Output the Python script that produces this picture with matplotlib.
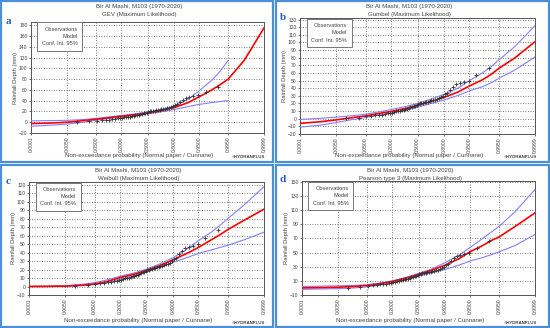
import math
import matplotlib
matplotlib.use("Agg")
import matplotlib.pyplot as plt
from matplotlib.patches import Rectangle
import numpy as np

plt.rcParams['font.family'] = ['Liberation Sans', 'DejaVu Sans']

# probabilities where the model curves were read
PROB = [0.0001, 0.001, 0.005, 0.02, 0.05, 0.1, 0.2, 0.35, 0.5, 0.65,
        0.8, 0.9, 0.95, 0.98, 0.99, 0.995, 0.999, 0.9999]
X_TICKS = [0.0001, 0.005, 0.05, 0.2, 0.5, 0.8, 0.95, 0.995, 0.9999]

nan = np.nan
gev_model = [-2.5, -1.5, 0, 3, 5.5, 8, 11, 14, 17, 21, 27, 36, 47, 60, 70, 80, 115, 175]
gev_upper = [2.5, 3, 3.5, 5, 7, 9.5, 12.5, 15.5, 19, 23, 30, 42, 58, 78, 95, 115, nan, nan]
gev_lower = [-7.5, -5.5, -3.5, 0, 3.5, 6.5, 9.5, 12.5, 15.5, 19, 23.5, 29, 33, 36.5, 38.5, 40, nan, nan]

gum_model = [-6, -4, -1.5, 1.5, 3.7, 6.5, 9.5, 13.5, 17.5, 22, 28, 35, 43, 51, 58, 66, 80, 101]
gum_upper = [-1, 0.5, 2, 4, 6, 8.5, 12, 16, 20, 25, 32, 40, 50, 60, 68, 77, 95, 122]
gum_lower = [-11, -8.5, -5, -1, 1.5, 4.5, 7.5, 11, 15, 19.5, 24.5, 30.5, 36.5, 42, 47, 53, 64, 81]

wei_model = [0, 0.2, 0.5, 1.5, 3, 5.5, 10.5, 14.5, 19, 24, 31.5, 39, 46, 55, 61, 67, 78, 91]
wei_upper = [0.2, 0.5, 1, 2.5, 4.5, 7.5, 12, 16, 20.5, 26, 34, 44, 54, 64, 72, 80, 96, 117.5]
wei_lower = [0, 0, 0.2, 1, 2, 4, 8.5, 12.5, 17, 22, 28.5, 34, 39, 43, 46, 48.5, 55, 64]

pe3_model = [0, 0.5, 1, 2, 3.5, 5.5, 9, 14, 19, 24.5, 32, 41, 51, 60, 67, 72, 87, 106]
pe3_upper = [2, 2.5, 3, 3.5, 4.5, 6.5, 10, 15, 20.5, 26, 35.5, 46, 57, 70, 79, 87, 108, 139]
pe3_lower = [-2, -1.5, -1, 0, 1.5, 3.5, 7, 11.5, 16.5, 21, 26, 32, 38, 43, 47, 51, 60, 75.5]

# annual maximum rainfall (mm), sorted, plotted at Cunnane positions
obs = [0.5, 1.5, 3, 4, 4.5, 5, 5.5, 6, 7, 7.5, 8, 9, 9.5, 10, 10.5, 11, 12,
       12.5, 13, 14, 15, 16, 16.5, 17, 18, 19, 20, 20.5, 21, 21.5, 22, 22.5,
       23, 24, 24.5, 25, 26, 27, 28, 30, 32, 34, 38, 42, 45, 47, 48, 50, 57, 66]

TITLE = 'Bir Al Mashi, M103 (1970-2020)'
XLABEL = 'Non-exceedance probability (Normal paper / Cunnane)'

_erf = np.vectorize(math.erf, otypes=[float])


def ndtr(z):
    return 0.5 * (1 + _erf(np.asarray(z, float) / math.sqrt(2)))


def ndtri(p):
    p = np.clip(np.asarray(p, float), 1e-12, 1 - 1e-12)
    lo = np.full(p.shape, -9.0)
    hi = np.full(p.shape, 9.0)
    for _ in range(60):
        mid = (lo + hi) / 2
        below = ndtr(mid) < p
        lo = np.where(below, mid, lo)
        hi = np.where(below, hi, mid)
    return (lo + hi) / 2


fig = plt.figure(figsize=(5.5, 3.28), dpi=100)
W, H = 550, 328


def fbox(l, t, r, b):
    return [l / W, 1 - b / H, (r - l) / W, (b - t) / H]


n = len(obs)
cunnane = [(i + 1 - 0.4) / (n + 0.2) for i in range(n)]

panels = [
    ('a', 'GEV (Maximum Likelihood)', gev_model, gev_upper, gev_lower,
     (31, 22, 264, 133), (1, 1, 273, 162), (-20, 186), np.arange(-20, 181, 20)),
    ('b', 'Gumbel (Maximum Likelihood)', gum_model, gum_upper, gum_lower,
     (300, 18, 535, 134), (276, 1, 549, 162), (-20, 132), np.arange(-20, 131, 10)),
    ('c', 'Weibull (Maximum Likelihood)', wei_model, wei_upper, wei_lower,
     (29, 182, 264, 295), (1, 165, 273, 327), (-10, 123), np.arange(-10, 121, 10)),
    ('d', 'Pearson type 3 (Maximum Likelihood)', pe3_model, pe3_upper, pe3_lower,
     (302, 181, 535, 295), (276, 165, 549, 327), (-10, 151), np.arange(-10, 151, 20)),
]

TXT = '#444444'

for letter, sub, model, upper, lower, ab, frame, ylim, yt in panels:
    l, t, r, b = frame
    fig.patches.append(Rectangle((l / W, 1 - b / H), (r - l) / W, (b - t) / H,
                                 transform=fig.transFigure, fill=False,
                                 edgecolor='#4a90d9', lw=1.6))
    ax = fig.add_axes(fbox(*ab))
    ax.set_xscale('function', functions=(ndtri, ndtr))
    ax.plot(PROB, upper, color='#8080ff', lw=0.8, zorder=3)
    ax.plot(PROB, lower, color='#8080ff', lw=0.8, zorder=3)
    ax.plot(PROB, model, color='#ff0000', lw=1.2, zorder=4)
    ax.plot(cunnane, obs, '+', color='#333333', ms=3, mew=0.6, zorder=5)
    ax.set_xlim(0.0001, 0.9999)
    ax.set_ylim(*ylim)
    ax.set_xticks(X_TICKS)
    ax.set_xticklabels(['%.4f' % v for v in X_TICKS], rotation=90)
    ax.set_yticks(yt)
    ax.tick_params(labelsize=3.6, length=1.5, width=0.5, pad=1, colors=TXT)
    ax.grid(True, color='#555555', ls=(0, (1, 2)), lw=0.6)
    for s in ax.spines.values():
        s.set_color('#555555')
        s.set_linewidth(0.7)
    ax.set_ylabel('Rainfall Depth (mm)', fontsize=4.2, labelpad=1, color=TXT)
    ax.text(0.2, 0.955, 'Observations\nModel\nConf. Int. 95%', transform=ax.transAxes,
            ha='right', va='top', fontsize=4.1, color=TXT, multialignment='right',
            linespacing=1.55,
            bbox=dict(boxstyle='square,pad=0.8', fc='white', ec='#777777', lw=0.7),
            zorder=6)

    cx = (ab[0] + ab[2]) / 2 - 8
    fig.text(cx / W, 1 - (frame[1] + 5.5) / H, TITLE, ha='center', va='center',
             fontsize=4.4, color=TXT)
    fig.text(cx / W, 1 - (frame[1] + 13.5) / H, sub, ha='center', va='center',
             fontsize=4.4, color=TXT)
    fig.text(cx / W, 1 - (frame[3] - 6.5) / H, XLABEL, ha='center', va='center',
             fontsize=4.4, color=TXT)
    fig.text((ab[2] - 15) / W, 1 - (frame[3] - 4.5) / H, '©HYDRANPLUS', ha='center',
             va='center', fontsize=3.2, color=TXT, fontweight='bold')
    fig.text((frame[0] + 7) / W, 1 - (ab[1] - 1) / H, letter, ha='center', va='center',
             fontsize=8, color='#1f5fbf', fontweight='bold', family='Liberation Serif')

fig.savefig('out.png', dpi=100)
